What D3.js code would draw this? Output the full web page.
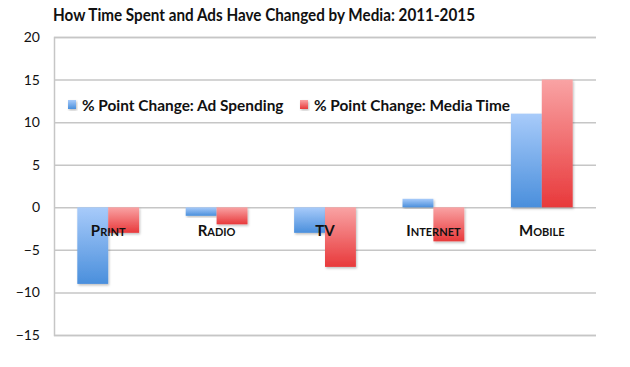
<!DOCTYPE html>
<html><head><meta charset="utf-8">
<script src="https://cdn.jsdelivr.net/npm/d3@7"></script>
<style>
body{margin:0;background:#fff;}
text{font-family:Lato,"Open Sans",sans-serif;}
</style></head>
<body><svg id="c" width="630" height="367"></svg>
<script>
const categories = ["Print","Radio","TV","Internet","Mobile"];
const seriesNames = ["% Point Change: Ad Spending","% Point Change: Media Time"];
const adSpending = [-9,-1,-3,1,11];
const mediaTime = [-3,-2,-7,-4,15];
const yTicks = [-15,-10,-5,0,5,10,15,20];
const title = "How Time Spent and Ads Have Changed by Media: 2011-2015";

const svg = d3.select("#c");
const pLeft=54,pRight=596,pTop=37,pBottom=335;
const x = d3.scaleBand().domain(categories).range([pLeft,pRight]).paddingInner(0.43).paddingOuter(0.215);
const xs = d3.scaleBand().domain([0,1]).range([0,x.bandwidth()]);
const y = d3.scaleLinear().domain([-15,20]).range([pBottom,pTop]);

const defs = svg.append("defs");
const grads = [["gb","#a8cbfa","#4a8fdc"],["gr","#f9a3a4","#e8393b"]];
grads.forEach(([id,c1,c2])=>{
  const g=defs.append("linearGradient").attr("id",id).attr("x1",0).attr("y1",0).attr("x2",0).attr("y2",1);
  g.append("stop").attr("offset","0%").attr("stop-color",c1);
  g.append("stop").attr("offset","100%").attr("stop-color",c2);
});
const f=defs.append("filter").attr("id","sh").attr("x","-20%").attr("y","-20%").attr("width","140%").attr("height","140%");
f.append("feDropShadow").attr("dx",1).attr("dy",1.5).attr("stdDeviation",1).attr("flood-color","#000").attr("flood-opacity",0.25);

// title
svg.append("text").attr("x",53).attr("y",21).attr("font-size",16.5).attr("font-weight","bold")
  .attr("fill","#111").attr("textLength",422).attr("lengthAdjust","spacingAndGlyphs").text(title);

// gridlines
const yAxis = d3.axisLeft(y).tickValues(yTicks).tickSize(-(pRight-pLeft)).tickPadding(14).tickFormat(d3.format("d"));
const ga = svg.append("g").attr("transform",`translate(${pLeft},0)`).call(yAxis);
ga.select(".domain").attr("stroke","#c6c6c6").attr("stroke-width",1.5);
ga.selectAll(".tick line").attr("stroke","#c6c6c6").attr("stroke-width",1.5);
ga.selectAll(".tick text").attr("font-size",14).attr("fill","#111").attr("font-family","Lato,sans-serif");

// bars
const data = categories.map((c,i)=>({c,vals:[adSpending[i],mediaTime[i]]}));
const groups = svg.append("g").selectAll("g").data(data).join("g").attr("transform",d=>`translate(${x(d.c)},0)`);
groups.selectAll("rect").data(d=>d.vals.map((v,k)=>({v,k}))).join("rect")
  .attr("x",d=>xs(d.k)).attr("width",xs.bandwidth())
  .attr("y",d=>y(Math.max(0,d.v))).attr("height",d=>Math.abs(y(d.v)-y(0)))
  .attr("fill",d=>d.k===0?"url(#gb)":"url(#gr)").attr("filter","url(#sh)");

// category labels
svg.append("g").selectAll("text").data(categories).join("text")
  .attr("x",d=>x(d)+x.bandwidth()/2).attr("y",y(0)+29).attr("text-anchor","middle")
  .attr("font-size",15).attr("font-weight","bold").attr("font-variant","small-caps").attr("fill","#111")
  .text(d=>d);

// legend
const leg = [{x:68,name:seriesNames[0],fill:"url(#gb)"},{x:300,name:seriesNames[1],fill:"url(#gr)"}];
const lg = svg.append("g").selectAll("g").data(leg).join("g").attr("transform",d=>`translate(${d.x},100)`);
lg.append("rect").attr("width",8).attr("height",9).attr("y",0).attr("fill",d=>d.fill).attr("filter","url(#sh)");
lg.append("text").attr("x",14).attr("y",10.5).attr("font-size",15.4).attr("font-weight","bold").attr("fill","#111").text(d=>d.name);
</script></body></html>
